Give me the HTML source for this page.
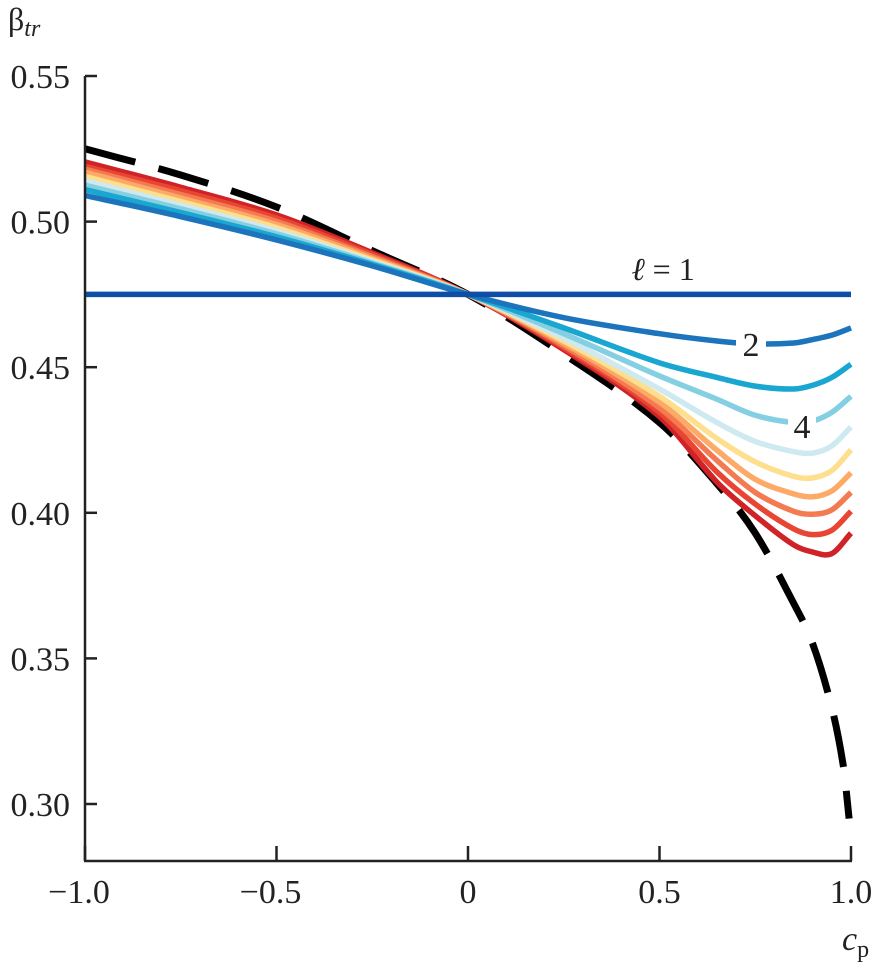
<!DOCTYPE html>
<html><head><meta charset="utf-8"><style>
html,body{margin:0;padding:0;background:#fff;}
svg text{font-family:"Liberation Serif",serif;fill:#222;}
</style></head><body>
<svg id="chart" width="878" height="969" viewBox="0 0 878 969" xmlns="http://www.w3.org/2000/svg">
<g id="curves"></g>
<g id="axes"></g>
</svg>
<script>
const xs = [-1,-0.75,-0.5,-0.25,0,0.25,0.5,0.65,0.75,0.85,0.9,0.95,1];
const l1 = [0.475,0.475,0.475,0.475,0.475,0.475,0.475,0.475,0.475,0.475,0.475,0.475,0.475];
const l2 = [0.509,0.5017,0.4937,0.4848,0.475,0.467,0.4615,0.459,0.458,0.4583,0.4595,0.461,0.4635];
const l3 = [0.511,0.5031,0.4948,0.4853,0.475,0.4635,0.4515,0.4465,0.4435,0.4425,0.4438,0.4465,0.451];
const l4 = [0.5125,0.5044,0.4958,0.4858,0.475,0.4615,0.447,0.439,0.4335,0.431,0.4315,0.4345,0.440];
const l5 = [0.514,0.5056,0.4968,0.4863,0.475,0.460,0.4425,0.431,0.4245,0.421,0.4205,0.423,0.4295];
const l6 = [0.5155,0.5069,0.4979,0.4868,0.475,0.459,0.440,0.4255,0.4175,0.4125,0.412,0.4145,0.4216];
const l7 = [0.517,0.5081,0.4990,0.4874,0.475,0.4582,0.438,0.4215,0.4115,0.4065,0.4055,0.4075,0.4137];
const l8 = [0.518,0.5093,0.5001,0.4880,0.475,0.4574,0.436,0.418,0.407,0.4005,0.3995,0.401,0.407];
const l9 = [0.519,0.5106,0.5012,0.4887,0.475,0.4567,0.4345,0.414,0.403,0.3945,0.3925,0.394,0.4005];
const l10 = [0.5205,0.5118,0.5023,0.4893,0.475,0.456,0.433,0.4105,0.399,0.389,0.3865,0.386,0.393];
const series = [l1,l2,l3,l4,l5,l6,l7,l8,l9,l10];
const seriesColors = ["#0d4ea6","#1c74bd","#19a6d0","#85cfe3","#cfe9f1","#fedf8e","#fdaa66","#f47a52","#e84533","#cf2327"];
const dashX = [-1,-0.75,-0.5,-0.25,0,0.25,0.5,0.65,0.75,0.85,0.9,0.95,0.98,0.995];
const dashY = [0.525,0.516,0.505,0.490,0.475,0.4545,0.431,0.410,0.393,0.369,0.355,0.333,0.313,0.295];
const xTicks = [-1,-0.5,0,0.5,1];
const xTickLabels = ["\u22121.0","\u22120.5","0","0.5","1.0"];
const yTicks = [0.30,0.35,0.40,0.45,0.50,0.55];
const yTickLabels = ["0.30","0.35","0.40","0.45","0.50","0.55"];

const X0=85,X1=851,YT=76,YB=804,AXB=861;
const sx=v=>X0+(v+1)/2*(X1-X0);
const sy=v=>YB-(v-0.30)/0.25*(YB-YT);
const NS="http://www.w3.org/2000/svg";
function mk(t,a,p){const e=document.createElementNS(NS,t);for(const k in a)e.setAttribute(k,a[k]);p.appendChild(e);return e;}
function smooth(px,py){
  const n=px.length, m=[];
  for(let i=0;i<n;i++){
    const a=Math.max(0,i-1), b=Math.min(n-1,i+1);
    m.push((py[b]-py[a])/(px[b]-px[a]));
  }
  let d="M"+sx(px[0])+","+sy(py[0]);
  for(let i=0;i<n-1;i++){
    const h=px[i+1]-px[i];
    const c1x=px[i]+h/3, c1y=py[i]+m[i]*h/3;
    const c2x=px[i+1]-h/3, c2y=py[i+1]-m[i+1]*h/3;
    d+=" C"+sx(c1x)+","+sy(c1y)+" "+sx(c2x)+","+sy(c2y)+" "+sx(px[i+1])+","+sy(py[i+1]);
  }
  return d;
}
const cg=document.getElementById("curves");
const dash=mk("path",{d:smooth(dashX,dashY),fill:"none",stroke:"#000","stroke-width":7,"stroke-dasharray":"52,24"},cg);


for(let s=series.length-1;s>=0;s--){
  const p=mk("path",{d:smooth(xs,series[s]),fill:"none",stroke:seriesColors[s],"stroke-width":5.5},cg);
  
  
}
const r2=mk("rect",{x:736,y:325,width:30,height:38,fill:"#fff"},cg);


const t2=mk("text",{x:751,y:356,"font-size":34,"text-anchor":"middle"},cg);t2.textContent="2";


const r4=mk("rect",{x:788,y:405,width:28,height:40,fill:"#fff"},cg);


const t4=mk("text",{x:802,y:438,"font-size":34,"text-anchor":"middle"},cg);t4.textContent="4";


const t1=mk("text",{x:663,y:280,"font-size":32,"text-anchor":"middle"},cg);t1.innerHTML='<tspan font-style="italic">\u2113</tspan> = 1';



const ag=document.getElementById("axes");
const ya=mk("line",{x1:X0,y1:YT,x2:X0,y2:AXB,stroke:"#222","stroke-width":2.5},ag);


const xa=mk("line",{x1:X0-1,y1:AXB,x2:X1+1,y2:AXB,stroke:"#222","stroke-width":2.5},ag);


yTicks.forEach((v,i)=>{
  const l=mk("line",{x1:X0,y1:sy(v),x2:X0+12,y2:sy(v),stroke:"#222","stroke-width":2.5},ag);
  
  
  const t=mk("text",{x:70,y:sy(v)+12,"font-size":34,"text-anchor":"end"},ag);t.textContent=yTickLabels[i];
  
  
});
xTicks.forEach((v,i)=>{
  const l=mk("line",{x1:sx(v),y1:AXB,x2:sx(v),y2:AXB-15,stroke:"#222","stroke-width":2.5},ag);
  
  
  const t=mk("text",{x:sx(v)+(i==0||i==1?-6:0),y:903,"font-size":34,"text-anchor":"middle"},ag);t.textContent=xTickLabels[i];
  
  
});
const yt=mk("text",{x:8,y:30,"font-size":32},ag);
yt.innerHTML='\u03b2<tspan font-size="24" font-style="italic" dy="6">tr</tspan>';


const xt=mk("text",{x:842,y:950,"font-size":34,"font-style":"italic"},ag);
xt.innerHTML='c<tspan font-size="24" font-style="normal" dy="7">p</tspan>';


</script>
</body></html>
